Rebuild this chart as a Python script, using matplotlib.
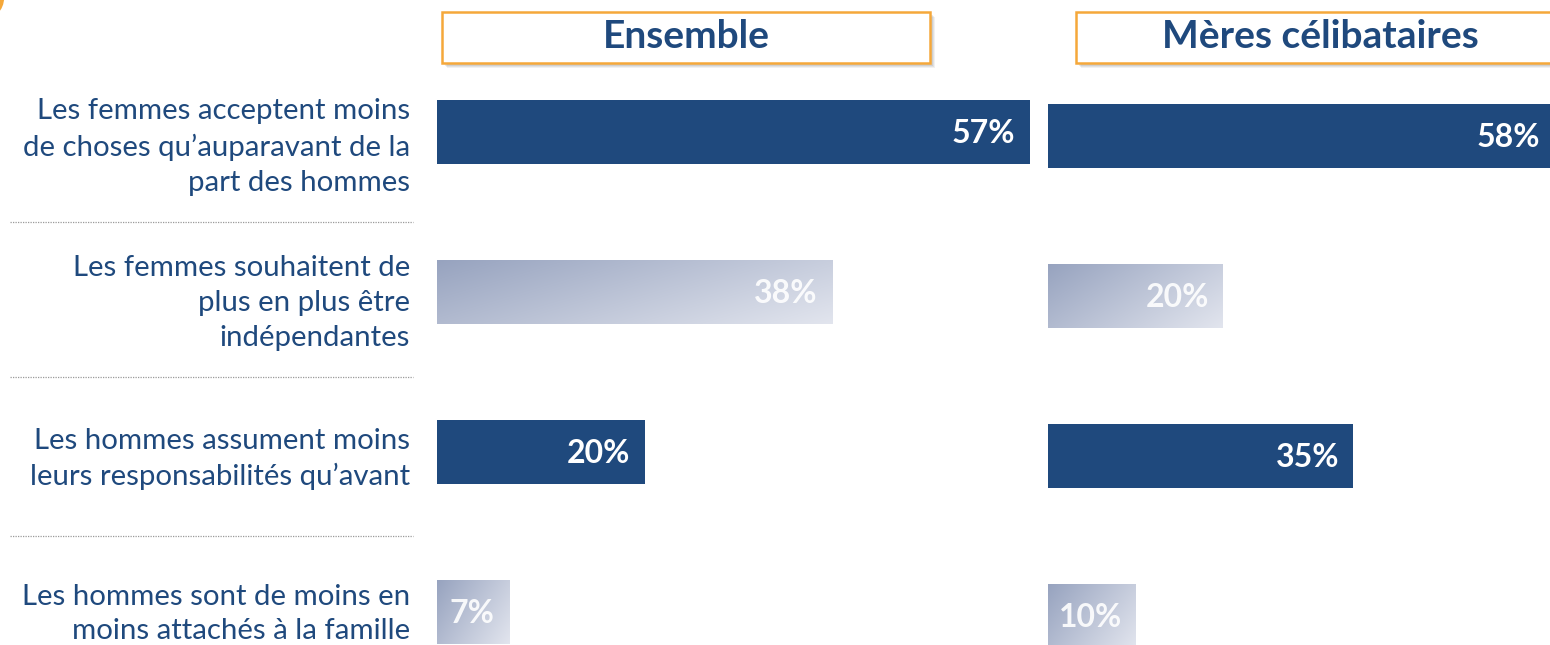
import matplotlib.pyplot as plt
import numpy as np
from matplotlib.patches import Rectangle, Arc
from matplotlib.lines import Line2D

plt.rcParams['font.family'] = ['Lato', 'DejaVu Sans']

# data
categories = [
    "Les femmes acceptent moins\nde choses qu\u2019auparavant de la\npart des hommes",
    "Les femmes souhaitent de\nplus en plus \u00eatre\nind\u00e9pendantes",
    "Les hommes assument moins\nleurs responsabilit\u00e9s qu\u2019avant",
    "Les hommes sont de moins en\nmoins attach\u00e9s \u00e0 la famille",
]
ensemble = [57, 38, 20, 7]
meres = [58, 20, 35, 10]
dark_rows = [True, False, True, False]
panel_titles = ['Ensemble', 'M\u00e8res c\u00e9libataires']

DARK = '#1f497d'
GRAD_START = np.array([0x97, 0xa3, 0xbf]) / 255
GRAD_END = np.array([0xe2, 0xe5, 0xee]) / 255

W, H = 1550, 645
fig = plt.figure(figsize=(W / 100, H / 100), dpi=100)


def px_axes(left, top, width, height):
    ''' axes placed with pixel coords measured from the top-left '''
    return fig.add_axes([left / W, 1 - (top + height) / H, width / W, height / H])


def gradient_bar(ax, y, value, h):
    rect = Rectangle((0, y - h / 2), value, h, facecolor='none', edgecolor='none')
    ax.add_patch(rect)
    u = np.linspace(0, 1, 200)[None, :]
    v = np.linspace(0, 1, 60)[:, None]
    t = (0.65 * u + 0.35 * v)
    img = GRAD_START[None, None, :] * (1 - t[..., None]) + GRAD_END[None, None, :] * t[..., None]
    im = ax.imshow(img, extent=(0, value, y + h / 2, y - h / 2), aspect='auto',
                   interpolation='bilinear', zorder=2)
    im.set_clip_path(rect)


def draw_panel(ax, values, xmax, label_pad):
    ypos = np.arange(len(values))
    bh = 0.395
    for y, val, dark in zip(ypos, values, dark_rows):
        if dark:
            ax.barh(y, val, height=bh, color=DARK, zorder=2)
            alpha = 1.0
        else:
            gradient_bar(ax, y, val, bh)
            alpha = 0.9
        ax.text(val - label_pad, y + 0.01, f'{val}%', ha='right', va='center',
                color='white', alpha=alpha, fontsize=23, fontweight='bold', zorder=3)
    ax.set_xlim(0, xmax)
    ax.set_ylim(3.5, -0.5)
    ax.axis('off')


# panels: bar centre spacing ~160 px
ax1 = px_axes(437, 52, 593, 640)
draw_panel(ax1, ensemble, 57, 1.45)
ax2 = px_axes(1048, 56, 505, 640)
draw_panel(ax2, meres, 58, 1.5)

# row labels on the left
label_y = [147, 303, 459, 614]
for txt, yy in zip(categories, label_y):
    fig.text(410 / W, 1 - yy / H, txt, ha='right', va='center', color=DARK,
             fontsize=21.2, linespacing=1.42)

# dotted separators
for yy in [222, 377, 536]:
    fig.add_artist(Line2D([10 / W, 413 / W], [1 - yy / H] * 2, color='#9a9a9a',
                          lw=0.9, linestyle=(0, (1, 1))))

# header boxes with soft shadow
boxes = [(442, 12, 488, 51), (1076, 12, 480, 51)]
for (bx, by, bw, bh), title in zip(boxes, panel_titles):
    for k, a in [(5, 0.08), (4, 0.10), (3, 0.12)]:
        fig.add_artist(Rectangle(((bx + k) / W, 1 - (by + bh + k) / H), bw / W, bh / H,
                                 transform=fig.transFigure, facecolor='#555555',
                                 edgecolor='none', alpha=a))
    fig.add_artist(Rectangle((bx / W, 1 - (by + bh) / H), bw / W, bh / H,
                             transform=fig.transFigure, facecolor='white',
                             edgecolor='#f5a83a', lw=1.8))
    cx = (bx + 244) / W
    fig.text(cx, 1 - (by + bh / 2 - 1) / H, title, ha='center', va='center',
             color=DARK, fontsize=28, fontweight='bold')

# small orange arc in the corner
fig.add_artist(Arc((-18 / W, 1 + 2 / H), 40 / W, 40 / H, theta1=270, theta2=360,
                   transform=fig.transFigure, color='#f5a83a', lw=3))

plt.savefig('out.png', dpi=100)
plt.close()
